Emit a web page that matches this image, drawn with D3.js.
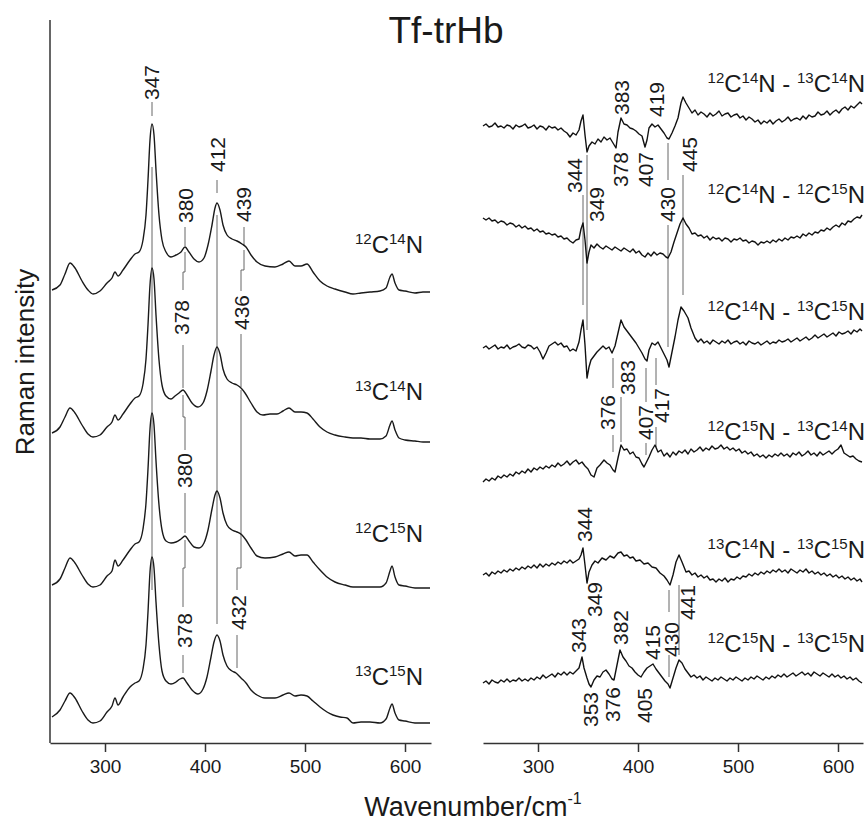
<!DOCTYPE html>
<html>
<head>
<meta charset="utf-8">
<script src="https://cdn.jsdelivr.net/npm/d3@7"></script>
<style>
  body { margin: 0; background: #fff; }
  text { font-family: "Liberation Sans", Arial, sans-serif; fill: #1a1a1a; }
</style>
</head>
<body>
<div id="chart"></div>
<script>
// ---- data: raman spectra [wavenumber, intensity] (left panel) ----
const spec12C14N = [[247,0],[255,5],[260,16],[265,27],[270,22],[277,9],[283,0],[288,-4],[295,-1],[302,7],[307,12],[310,18],[313,14],[318,20],[325,30],[330,36],[334,38],[338,50],[341,75],[343,110],[345,150],[347,166],[349,155],[351,120],[354,75],[357,50],[361,38],[366,33],[371,35],[376,38],[380,43],[384,38],[389,31],[394,28],[399,32],[403,45],[407,65],[410,82],[412,87],[415,80],[418,65],[422,55],[427,51],[432,49],[437,46],[441,43],[446,35],[452,28],[460,24],[470,23],[478,26],[484,29],[490,24],[496,24],[502,26],[508,18],[515,9],[522,4],[530,1],[540,-2],[548,-4],[556,-3],[565,-2],[575,-1],[581,2],[585,13],[587,16],[590,7],[594,0],[600,-1],[610,-3],[618,-2],[625,-2]];
const spec13C14N = [[247,0],[255,6],[260,16],[265,25],[270,20],[277,8],[283,-1],[288,-4],[295,-2],[302,6],[307,11],[310,18],[313,13],[318,19],[325,29],[330,35],[334,37],[338,49],[341,74],[343,108],[345,148],[347,165],[349,154],[351,118],[354,73],[357,48],[361,37],[366,34],[370,37],[374,40],[378,43],[382,38],[387,30],[393,26],[398,30],[402,42],[406,62],[409,78],[412,86],[415,79],[418,64],[422,54],[427,50],[432,48],[436,45],[440,40],[446,30],[452,21],[458,18],[465,19],[472,19],[478,22],[484,25],[490,21],[496,21],[502,20],[508,14],[515,6],[522,1],[530,-2],[540,-4],[548,-5],[556,-5],[565,-6],[575,-6],[581,-3],[585,8],[587,12],[590,3],[594,-5],[600,-7],[610,-8],[618,-9],[625,-9]];
const spec12C15N = [[247,0],[255,6],[260,17],[265,27],[270,22],[277,10],[283,1],[288,-2],[295,0],[302,9],[307,14],[310,25],[313,19],[318,25],[325,35],[330,41],[334,43],[338,56],[341,82],[343,116],[345,156],[347,172],[349,160],[351,124],[354,80],[357,55],[361,44],[366,42],[371,43],[376,46],[380,49],[384,44],[389,38],[394,37],[399,42],[403,55],[407,76],[410,90],[412,94],[415,87],[418,72],[422,60],[427,55],[432,53],[437,50],[441,45],[446,37],[452,29],[460,27],[470,28],[478,31],[484,33],[490,29],[496,30],[502,30],[508,23],[515,15],[522,8],[530,3],[540,0],[548,-2],[556,-2],[565,-2],[575,-2],[581,2],[585,14],[587,19],[590,8],[594,0],[600,-1],[610,-3],[618,-3],[625,-3]];
const spec13C15N = [[247,0],[255,7],[260,16],[265,24],[270,19],[277,6],[283,-3],[288,-6],[295,-4],[302,5],[307,11],[310,19],[313,12],[318,20],[325,30],[330,34],[334,36],[338,48],[341,72],[343,105],[345,145],[347,160],[349,149],[351,115],[354,72],[357,46],[361,36],[366,33],[371,35],[375,38],[378,39],[382,34],[387,27],[393,23],[398,28],[402,40],[406,60],[409,75],[412,82],[415,76],[418,62],[422,51],[427,46],[431,44],[436,39],[441,34],[446,27],[452,22],[460,19],[470,19],[478,22],[484,24],[490,21],[496,22],[502,21],[508,16],[515,10],[522,5],[528,2],[535,0],[542,-1],[548,-6],[556,-5],[565,-5],[575,-6],[581,-2],[585,9],[587,13],[590,4],[594,-3],[600,-4],[610,-6],[618,-6],[625,-6]];

// ---- data: difference spectra (right panel) ----
const diffA = [[245,4],[248,6],[251,3],[254,4],[257,7],[260,3],[263,4],[266,2],[269,5],[272,4],[275,1],[278,5],[281,3],[284,4],[287,6],[290,2],[293,3],[296,5],[299,1],[302,4],[305,3],[308,0],[311,4],[314,2],[317,3],[320,0],[323,2],[326,-1],[329,-3],[332,-7],[335,-3],[338,-5],[341,0],[343,9],[345,15],[347,-5],[349,-22],[351,-16],[354,-12],[357,-14],[360,-9],[363,-12],[366,-7],[369,-10],[372,-8],[375,-13],[378,-18],[380,-2],[383,12],[386,6],[389,5],[392,2],[395,1],[398,-1],[401,-4],[404,-6],[407,-17],[409,-10],[411,2],[414,6],[417,3],[420,5],[423,1],[426,-3],[429,-8],[431,-9],[434,-3],[437,4],[440,12],[443,27],[445,33],[448,27],[451,22],[454,17],[457,20],[460,15],[463,18],[466,16],[469,13],[472,17],[475,14],[478,16],[481,19],[484,14],[487,16],[490,17],[493,13],[496,15],[499,16],[502,12],[505,14],[508,10],[511,13],[514,11],[517,8],[520,10],[523,6],[526,9],[529,7],[532,10],[535,6],[538,9],[541,11],[544,8],[547,10],[550,13],[553,9],[556,11],[559,12],[562,10],[565,14],[568,11],[571,15],[574,13],[577,14],[580,18],[583,15],[586,16],[589,19],[592,15],[595,18],[598,20],[601,17],[604,21],[607,23],[610,20],[613,24],[616,22],[619,25],[622,28],[624,26]];
const diffB = [[245,12],[248,10],[251,12],[254,9],[257,10],[260,7],[263,9],[266,8],[269,5],[272,7],[275,6],[278,3],[281,5],[284,2],[287,4],[290,1],[293,2],[296,-1],[299,1],[302,-2],[305,-1],[308,-4],[311,-3],[314,-5],[317,-4],[320,-7],[323,-6],[326,-9],[329,-8],[332,-11],[335,-13],[338,-10],[341,-9],[343,1],[345,7],[347,-10],[349,-33],[351,-22],[353,-15],[356,-18],[359,-14],[362,-17],[365,-19],[368,-16],[371,-18],[374,-20],[377,-17],[380,-19],[383,-21],[386,-18],[389,-20],[392,-22],[395,-19],[398,-23],[401,-21],[404,-25],[407,-27],[410,-23],[413,-26],[416,-22],[419,-25],[422,-23],[425,-24],[428,-27],[430,-28],[433,-22],[436,-12],[439,-3],[442,6],[445,12],[448,6],[451,2],[454,-4],[457,-3],[460,-6],[463,-5],[466,-8],[469,-6],[472,-10],[475,-7],[478,-9],[481,-8],[484,-11],[487,-8],[490,-9],[493,-12],[496,-9],[499,-10],[502,-8],[505,-11],[508,-10],[511,-13],[514,-11],[517,-12],[520,-15],[523,-12],[526,-13],[529,-11],[532,-13],[535,-10],[538,-12],[541,-9],[544,-11],[547,-8],[550,-10],[553,-7],[556,-8],[559,-6],[562,-8],[565,-4],[568,-6],[571,-3],[574,-5],[577,-2],[580,-3],[583,0],[586,-1],[589,2],[592,0],[595,3],[598,5],[601,3],[604,7],[607,5],[610,9],[613,8],[616,11],[619,13],[622,12],[624,15]];
const diffC = [[245,2],[248,4],[251,1],[254,3],[257,5],[260,1],[263,3],[266,2],[269,5],[272,1],[275,3],[278,4],[281,6],[284,3],[287,2],[290,5],[293,4],[296,1],[299,3],[302,-2],[305,-9],[308,-3],[311,4],[314,6],[317,8],[320,5],[323,7],[326,3],[329,4],[332,-1],[335,1],[338,-1],[341,8],[343,20],[345,30],[347,5],[349,-28],[351,-17],[353,-10],[356,-6],[359,-2],[362,1],[365,4],[368,1],[371,3],[374,-3],[377,4],[380,17],[383,30],[386,23],[389,19],[392,15],[395,11],[398,7],[401,2],[404,-3],[407,-9],[409,-11],[411,0],[414,7],[417,5],[420,8],[423,2],[426,-4],[429,-10],[431,-17],[434,-2],[437,13],[440,30],[443,43],[446,39],[450,32],[453,22],[457,12],[460,8],[463,11],[466,7],[469,9],[472,6],[475,10],[478,8],[481,6],[484,9],[487,7],[490,10],[493,6],[496,8],[499,9],[502,6],[505,8],[508,5],[511,9],[514,7],[517,6],[520,8],[523,5],[526,7],[529,9],[532,6],[535,8],[538,7],[541,10],[544,8],[547,9],[550,11],[553,8],[556,10],[559,12],[562,9],[565,11],[568,13],[571,10],[574,12],[577,15],[580,12],[583,14],[586,16],[589,13],[592,15],[595,17],[598,14],[601,18],[604,16],[607,17],[610,19],[613,16],[616,20],[619,18],[622,21],[624,19]];
const diffD = [[245,-12],[248,-9],[251,-11],[254,-8],[257,-10],[260,-6],[263,-8],[266,-5],[269,-7],[272,-4],[275,-6],[278,-2],[281,-4],[284,-1],[287,-3],[290,1],[293,-2],[296,2],[299,0],[302,3],[305,1],[308,4],[311,2],[314,5],[317,3],[320,7],[323,4],[326,6],[329,9],[332,5],[335,8],[338,10],[341,6],[344,8],[347,4],[350,1],[353,-5],[356,-7],[359,2],[362,5],[366,10],[369,7],[372,5],[375,0],[377,-2],[380,12],[383,25],[386,20],[389,21],[392,16],[395,18],[398,13],[401,12],[404,6],[406,3],[408,7],[411,13],[414,20],[417,25],[420,18],[423,20],[426,14],[429,17],[432,13],[435,18],[438,15],[441,19],[444,17],[447,20],[450,16],[453,21],[456,18],[459,20],[462,23],[465,19],[468,22],[471,20],[474,24],[477,21],[480,22],[483,25],[486,21],[489,23],[492,20],[495,22],[498,19],[501,21],[504,17],[507,19],[510,16],[513,18],[516,14],[519,16],[522,13],[525,15],[528,12],[531,15],[534,13],[537,16],[540,14],[543,17],[546,14],[549,16],[552,13],[555,17],[558,15],[561,18],[564,14],[567,16],[570,19],[573,15],[576,17],[579,14],[582,18],[585,15],[588,17],[591,19],[594,16],[597,19],[600,21],[603,25],[606,17],[609,15],[612,13],[615,14],[618,11],[621,9],[624,8]];
const diffE = [[245,-5],[248,-3],[251,-6],[254,-2],[257,-4],[260,-1],[263,-3],[266,0],[269,-2],[272,1],[275,-1],[278,2],[281,0],[284,3],[287,1],[290,4],[293,2],[296,5],[299,2],[302,6],[305,3],[308,6],[311,4],[314,7],[317,5],[320,8],[323,6],[326,9],[329,7],[332,10],[335,7],[338,9],[341,11],[343,15],[345,22],[347,5],[349,-13],[351,-2],[354,5],[357,9],[360,7],[364,12],[368,10],[372,14],[376,12],[380,17],[383,18],[386,14],[389,15],[392,12],[395,13],[398,9],[402,10],[406,6],[410,7],[414,3],[418,2],[422,-3],[426,-6],[429,-10],[432,-15],[435,-5],[438,8],[441,15],[444,8],[448,-2],[451,-1],[454,-5],[457,-3],[460,-7],[463,-5],[466,-8],[469,-6],[472,-10],[475,-9],[478,-12],[481,-9],[484,-11],[487,-8],[490,-12],[493,-9],[496,-10],[499,-7],[502,-9],[505,-6],[508,-7],[511,-4],[514,-6],[517,-3],[520,-5],[523,-2],[526,-4],[529,-1],[532,-3],[535,0],[538,-2],[541,1],[544,-2],[547,0],[550,-3],[553,1],[556,-1],[559,-3],[562,0],[565,-2],[568,1],[571,-3],[574,-1],[577,-4],[580,-2],[583,-5],[586,-3],[589,-6],[592,-4],[595,-7],[598,-5],[601,-8],[604,-6],[607,-9],[610,-7],[613,-10],[616,-8],[619,-11],[622,-9],[624,-12]];
const diffF = [[245,-3],[248,-1],[251,-4],[254,0],[257,-2],[260,-3],[263,0],[266,-2],[269,1],[272,-2],[275,0],[278,-1],[281,2],[284,-1],[287,1],[290,-1],[293,2],[296,0],[299,3],[302,1],[305,5],[308,2],[311,4],[314,6],[317,3],[320,7],[323,5],[326,8],[329,5],[332,8],[335,6],[338,9],[341,12],[344,23],[346,12],[349,2],[351,-4],[353,-7],[356,0],[359,4],[362,3],[365,8],[368,10],[371,6],[374,1],[376,0],[379,15],[382,30],[385,23],[388,19],[391,14],[394,12],[397,8],[400,5],[403,3],[406,8],[409,12],[412,14],[415,16],[418,11],[421,7],[424,3],[427,-1],[430,-4],[432,-8],[435,2],[438,12],[441,20],[444,17],[447,11],[450,7],[453,3],[456,5],[459,2],[462,4],[465,0],[468,3],[471,1],[474,-1],[477,2],[480,0],[483,3],[486,1],[489,-1],[492,2],[495,0],[498,3],[501,1],[504,-1],[507,2],[510,0],[513,3],[516,1],[519,4],[522,2],[525,0],[528,3],[531,1],[534,4],[537,2],[540,5],[543,3],[546,6],[549,3],[552,5],[555,7],[558,4],[561,6],[564,8],[567,5],[570,7],[573,4],[576,8],[579,6],[582,4],[585,7],[588,5],[591,3],[594,6],[597,3],[600,5],[603,2],[606,4],[609,1],[612,3],[615,0],[618,2],[621,-1],[624,-3]];

const leftSpectra = [spec12C14N, spec13C14N, spec12C15N, spec13C15N];
const leftNames = ["^12C^14N", "^13C^14N", "^12C^15N", "^13C^15N"];
const leftOffsets = [453, 310, 158, 26];

const rightSpectra = [diffA, diffB, diffC, diffD, diffE, diffF];
const rightNames = ["^12C^14N - ^13C^14N", "^12C^14N - ^12C^15N", "^12C^14N - ^13C^15N",
                    "^12C^15N - ^13C^14N", "^13C^14N - ^13C^15N", "^12C^15N - ^13C^15N"];
const rightOffsets = [613, 513, 393, 273, 173, 63];

const xTicks = [300, 400, 500, 600];

// peak tags: text, wavenumber of text, height of text foot
const leftTags = [["347",347,643],["380",381,520],["412",413,571],["439",439,521],
                  ["378",377,408],["436",437,413],["380",380,255],["378",380,95],["432",434,113]];
const leftTicks = [[[347,641],[347,627]],[[380,516],[380,497]],[[412,563],[412,550]],[[439,516],[439,497]],
                   [[378,398],[378,355]],[[436,409],[436,356]],[[380,250],[380,210]],[[378,88],[378,70]],[[432,108],[432,75]],
                   [[347,576],[347,153]],[[412,528],[412,119]],
                   [[380,491],[380,471],[378,471],[378,453]],
                   [[378,348],[378,326],[380,326],[380,293]],
                   [[380,203],[380,175],[378,175],[378,136]],
                   [[439,493],[439,473],[436,473],[436,452]],
                   [[436,353],[436,175],[432,175],[432,153]]];
const rightTags = [["383",384,628],["419",419,626],["344",337,550],["349",359,521],["378",383,556],["407",408,556],
                   ["430",430,521],["445",452,571],["376",370,313],["383",390,348],["407",408,303],["417",424,320],
                   ["344",347,201],["349",357,126],["441",450,123],["430",434,86],["343",341,90],["382",383,98],
                   ["415",415,83],["353",353,16],["376",375,21],["405",407,20]];
const rightTicks = [[345,548,438],[349,588,413],[430,600,563],[430,518,396],[445,568,448],
                    [375,385,355],[375,308,291],[383,346,301],[408,375,341],[408,300,288],
                    [418,385,358],[418,316,296],[441,158,88],[431,153,131],[431,88,66]];

// ---- layout ----
const W = 866, H = 821;
const svg = d3.select("#chart").append("svg").attr("width", W).attr("height", H);

const xL = d3.scaleLinear().domain([245, 626]).range([50, 431]);
const xR = d3.scaleLinear().domain([245, 625]).range([483, 863]);
const y = d3.scaleLinear().domain([0, 723]).range([743, 20]);

// superscript label helper
function isoText(g, str, x, yy, size, supSize) {
  const t = g.append("text").attr("x", x).attr("y", yy)
    .attr("text-anchor", "end").style("font-size", size + "px");
  let sup = false;
  str.match(/\^\d+|[^^]+/g).forEach(p => {
    if (p[0] === "^") {
      t.append("tspan").text(p.slice(1)).style("font-size", supSize + "px")
        .attr("dy", sup ? 0 : -9);
      sup = true;
    } else {
      t.append("tspan").text(p).attr("dy", sup ? 9 : 0);
      sup = false;
    }
  });
}

function tagText(g, x, label, wn, h) {
  g.append("text")
    .attr("transform", `translate(${x(wn)},${y(h)}) rotate(-90)`)
    .attr("dy", "0.35em")
    .style("font-size", "21px")
    .text(label);
}

// axes
[xL, xR].forEach(x => {
  const ax = svg.append("g").attr("transform", `translate(0,${y(0)})`)
    .call(d3.axisBottom(x).tickValues(xTicks).tickSize(9).tickSizeOuter(0).tickPadding(8));
  ax.selectAll("path, line").attr("stroke", "#333").attr("stroke-width", 1.5);
  ax.selectAll("text").style("font-size", "19px").attr("fill", "#1a1a1a");
});
svg.append("line").attr("x1", xL.range()[0]).attr("x2", xL.range()[0])
  .attr("y1", y(723)).attr("y2", y(0)).attr("stroke", "#333").attr("stroke-width", 1.5);

// marker lines (drawn under spectra)
const markLine = d3.line().x(d => xL(d[0])).y(d => y(d[1]));
svg.append("g").selectAll("path").data(leftTicks).join("path")
  .attr("d", markLine).attr("fill", "none").attr("stroke", "#666").attr("stroke-width", 1);
svg.append("g").selectAll("line").data(rightTicks).join("line")
  .attr("x1", d => xR(d[0])).attr("x2", d => xR(d[0]))
  .attr("y1", d => y(d[1])).attr("y2", d => y(d[2]))
  .attr("stroke", "#666").attr("stroke-width", 1);

// left spectra
leftSpectra.forEach((s, i) => {
  const ln = d3.line().x(d => xL(d[0])).y(d => y(leftOffsets[i] + d[1])).curve(d3.curveMonotoneX);
  svg.append("path").datum(s).attr("d", ln)
    .attr("fill", "none").attr("stroke", "#1a1a1a").attr("stroke-width", 1.4);
});

// right spectra
rightSpectra.forEach((s, i) => {
  const ln = d3.line().x(d => xR(d[0])).y(d => y(rightOffsets[i] + d[1]));
  svg.append("path").datum(s).attr("d", ln)
    .attr("fill", "none").attr("stroke", "#111").attr("stroke-width", 1.4)
    .attr("stroke-linejoin", "round");
});

// peak labels
const tagG = svg.append("g");
leftTags.forEach(d => tagText(tagG, xL, d[0], d[1], d[2]));
rightTags.forEach(d => tagText(tagG, xR, d[0], d[1], d[2]));

// isotope labels
const nameG = svg.append("g");
const leftNameY = [253, 400, 542, 685];
leftNames.forEach((n, i) => isoText(nameG, n, 423, leftNameY[i], 24, 15));
const rightNameY = [92, 203, 320, 440, 558, 652];
rightNames.forEach((n, i) => isoText(nameG, n, 865, rightNameY[i], 24, 15));

// title and axis titles
svg.append("text").attr("x", 446).attr("y", 43).attr("text-anchor", "middle")
  .style("font-size", "37px").text("Tf-trHb");
svg.append("text").attr("transform", "translate(34,362) rotate(-90)")
  .attr("text-anchor", "middle").style("font-size", "26px").text("Raman intensity");
const xt = svg.append("text").attr("x", 473).attr("y", 816).attr("text-anchor", "middle")
  .style("font-size", "27px");
xt.append("tspan").text("Wavenumber/cm");
xt.append("tspan").text("-1").attr("dy", -12).style("font-size", "16px");
</script>
</body>
</html>
